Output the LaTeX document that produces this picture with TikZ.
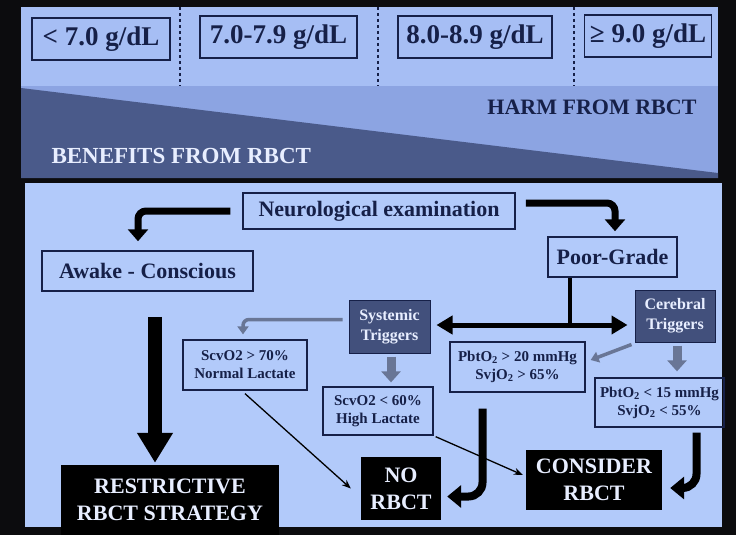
\documentclass[tikz,border=0pt]{standalone}
\usepackage{fontspec}
\setmainfont{Liberation Serif}
\usetikzlibrary{arrows.meta,positioning}

\definecolor{slidebg}{RGB}{12,12,14}
\definecolor{panelblue}{RGB}{178,202,250}
\definecolor{topblue}{RGB}{166,190,244}
\definecolor{harmblue}{RGB}{140,164,226}
\definecolor{benefitblue}{RGB}{74,90,138}
\definecolor{triggerfill}{RGB}{66,80,124}
\definecolor{navy}{RGB}{22,32,72}
\definecolor{arrowgrey}{RGB}{105,118,150}
\definecolor{paletext}{RGB}{232,238,255}

\begin{document}
\begin{tikzpicture}[x=1pt,y=-1pt]
       \tikzset{hbbox/.style={draw=navy, line width=1.3pt, text=navy, inner sep=0pt,
                font=\bfseries\fontsize{27}{30}\selectfont}}
       \tikzset{clinic/.style={draw=navy, line width=1.5pt, text=navy, inner sep=0pt,
                font=\bfseries\fontsize{22}{24}\selectfont}}
       \tikzset{trigger/.style={draw=navy, line width=1pt, fill=triggerfill, text=paletext,
                align=center, inner sep=0pt, font=\bfseries\fontsize{16}{20}\selectfont}}
       \tikzset{value/.style={draw=navy, line width=1.3pt, text=navy, align=center,
                inner sep=0pt, font=\bfseries\fontsize{15}{18}\selectfont}}
       \tikzset{outcome/.style={fill=black, text=paletext, align=center, inner sep=0pt,
                font=\bfseries\fontsize{22}{27}\selectfont}}

       \tikzset{bigarrow/.style={line width=7pt, rounded corners=8pt, -{Triangle[width=20pt,length=12pt]}}}
       \tikzset{hugearrow/.style={line width=14pt, -{Triangle[width=34pt,length=30pt]}}}
       \tikzset{jarrow/.style={line width=8pt, rounded corners=14pt, -{Triangle[width=22pt,length=14pt]}}}
       \tikzset{greyarrow/.style={arrowgrey, line width=3.5pt, rounded corners=6pt, -{Triangle[width=11pt,length=8pt]}}}
       \tikzset{greyblock/.style={arrowgrey, line width=9pt, -{Triangle[width=19pt,length=11pt]}}}
       \tikzset{thinarrow/.style={line width=1.3pt, -{Stealth[length=9pt,width=7pt]}}}
       \tikzset{bothway/.style={line width=5pt, {Triangle[width=18pt,length=16pt]}-{Triangle[width=18pt,length=16pt]}}}

        \useasboundingbox (0,0) rectangle (736,535);
        \fill[slidebg] (0,0) rectangle (736,535);

        % haemoglobin thresholds
        \fill[topblue] (21,7) rectangle (718,86);
        \foreach \x in {180,378,574}
          \draw[navy, dashed, line width=1.2pt] (\x,7) -- (\x,86);
        \node[hbbox, minimum width=138pt, minimum height=42pt] (hb1) at (101,39) {< 7.0 g/dL};
        \node[hbbox, minimum width=157pt, minimum height=42pt] (hb2) at (278.5,37) {7.0-7.9 g/dL};
        \node[hbbox, minimum width=154pt, minimum height=42pt] (hb3) at (475,37) {8.0-8.9 g/dL};
        \node[hbbox, minimum width=127pt, minimum height=42pt] (hb4) at (648,36) {≥ 9.0 g/dL};

        % harm / benefit wedge
        \fill[harmblue] (21,86) rectangle (718,178);
        \fill[benefitblue] (21,88) -- (718,173) -- (718,178) -- (21,178) -- cycle;
        \node[anchor=east, text=navy, font=\bfseries\fontsize{22}{24}\selectfont] (harm) at (700,107) {HARM FROM RBCT};
        \node[anchor=west, text=paletext, font=\bfseries\fontsize{23}{25}\selectfont] (benefit) at (48,156) {BENEFITS FROM RBCT};

        % algorithm
        \fill[panelblue] (25,183) rectangle (722,527);

        \node[clinic, minimum width=272pt, minimum height=36pt] (neuro) at (379,211) {Neurological examination};
        \node[clinic, minimum width=211pt, minimum height=40pt] (awake) at (147.5,271) {Awake - Conscious};
        \node[clinic, minimum width=129pt, minimum height=40pt] (poor) at (612.5,257) {Poor-Grade};

        \node[trigger, minimum width=81pt, minimum height=53pt] (systemic) at (389.5,326.5) {Systemic\\Triggers};
        \node[trigger, minimum width=80pt, minimum height=52pt] (cerebral) at (675,316) {Cerebral\\Triggers};

        \node[value, minimum width=124pt, minimum height=50pt] (normal) at (245,365) {ScvO2 > 70\%\\Normal Lactate};
        \node[value, minimum width=110pt, minimum height=48pt] (high) at (378,411) {ScvO2 < 60\%\\High Lactate};
        \node[value, minimum width=135pt, minimum height=50pt] (pbthi) at (517.5,367) {PbtO\textsubscript{2} > 20 mmHg\\SvjO\textsubscript{2} > 65\%};
        \node[value, minimum width=129pt, minimum height=49pt] (pbtlo) at (659.5,402.5) {PbtO\textsubscript{2} < 15 mmHg\\SvjO\textsubscript{2} < 55\%};

        \node[outcome, minimum width=218pt, minimum height=70pt] (restrict) at (170,500) {RESTRICTIVE\\RBCT STRATEGY};
        \node[outcome, minimum width=80pt, minimum height=63pt] (norbct) at (401,488.5) {NO\\RBCT};
        \node[outcome, minimum width=136pt, minimum height=60pt] (consider) at (594,480) {CONSIDER\\RBCT};

        \coordinate (hub) at (569.5,325);

        \draw[bigarrow] ([xshift=-12pt]neuro.west) -| ([xshift=-9.5pt,yshift=9pt]awake.north);
        \draw[bigarrow] ([xshift=10pt,yshift=8pt]neuro.east) -| ([xshift=2.5pt,yshift=5pt]poor.north);
        \draw[line width=4pt] (poor.south -| hub) -- (hub);
        \draw[bothway] ([xshift=6pt]systemic.east |- hub) -- ([xshift=-7pt]cerebral.west |- hub);

        \draw[greyarrow] ([xshift=-6pt,yshift=7pt]systemic.west) -| ([xshift=-2pt,yshift=5pt]normal.north);
        \draw[greyblock] ([xshift=1.5pt,yshift=-3pt]systemic.south) -- ([xshift=1.5pt,yshift=4pt]systemic.south |- high.north);
        \draw[greyarrow] ([xshift=-3pt,yshift=-2pt]cerebral.south west) -- ([xshift=5pt,yshift=7pt]pbthi.east);
        \draw[greyblock] ([xshift=2pt,yshift=-3pt]cerebral.south) -- ([xshift=2pt,yshift=6pt]cerebral.south |- pbtlo.north);

        \draw[hugearrow] ([xshift=7.5pt,yshift=-25pt]awake.south) -- ([xshift=-15pt,yshift=2pt]restrict.north);
        \draw[thinarrow] ([yshift=-3pt]normal.south) -- ([xshift=-10pt]norbct.west);
        \draw[thinarrow] ([xshift=2pt,yshift=-1pt]high.south east) -- ([xshift=-3pt,yshift=5pt]consider.west);
        \draw[jarrow] ([xshift=-35pt,yshift=-16pt]pbthi.south) |- ([xshift=6pt,yshift=-8pt]norbct.east);
        \draw[jarrow] ([xshift=37pt,yshift=-5pt]pbtlo.south) |- ([xshift=8pt,yshift=-8pt]consider.east);
   \end{tikzpicture}
\end{document}
